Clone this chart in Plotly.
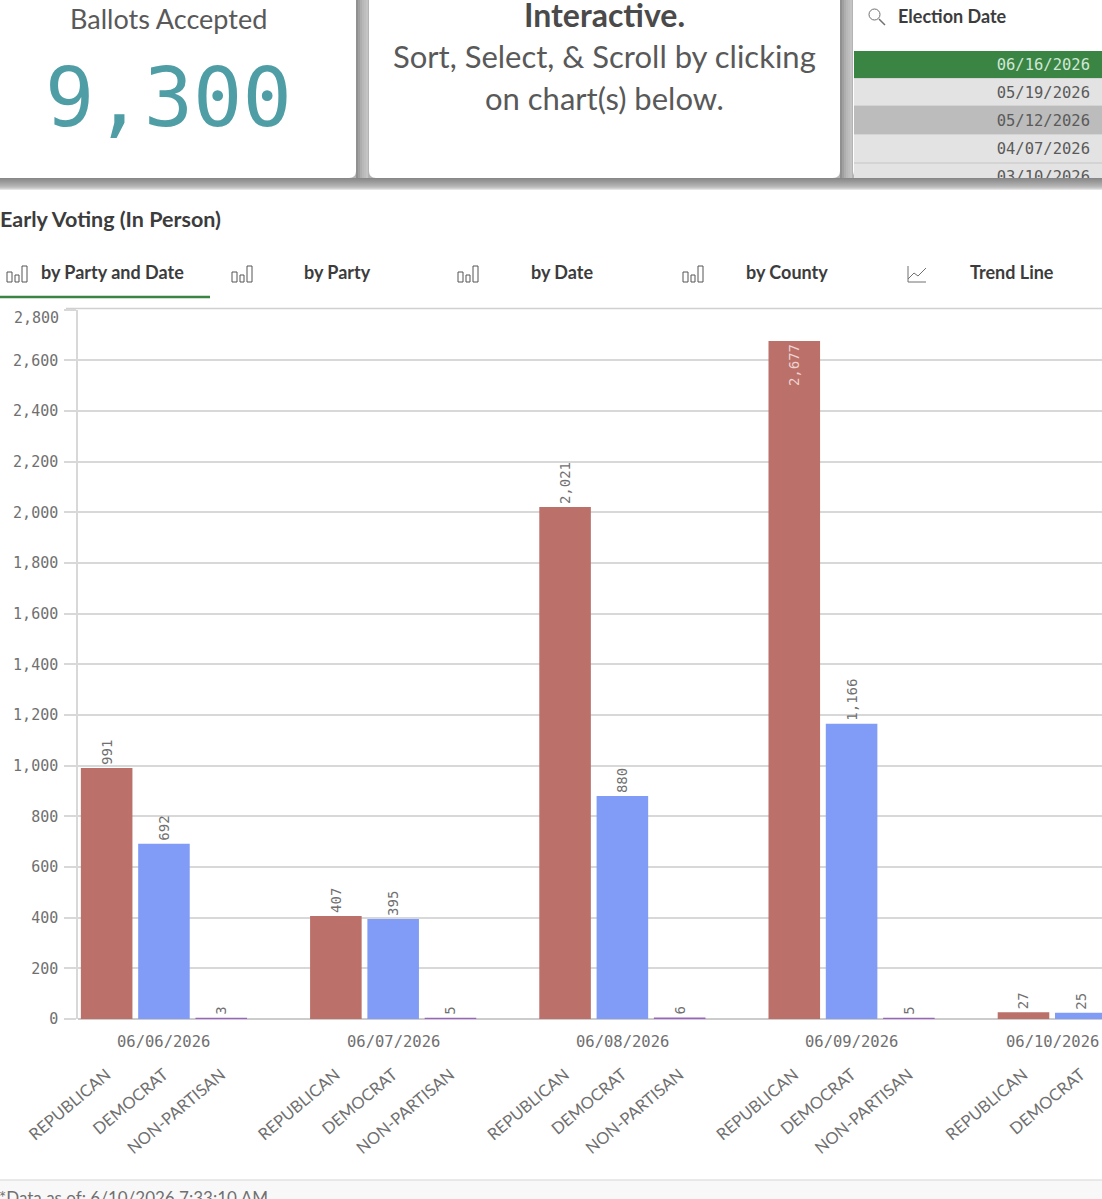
"""Early voting dashboard crop: cards on top, party/date bars below."""

import plotly.graph_objects as go

W, H = 1102, 1199

dates = ["06/06/2026", "06/07/2026", "06/08/2026", "06/09/2026", "06/10/2026"]
parties = ["REPUBLICAN", "DEMOCRAT", "NON-PARTISAN"]
republican = [991, 407, 2021, 2677, 27]
democrat = [692, 395, 880, 1166, 25]
non_partisan = [3, 5, 6, 5, None]  # last one is off the edge of the screenshot

election_dates = ["06/16/2026", "05/19/2026", "05/12/2026", "04/07/2026", "03/10/2026"]
tabs = ["by Party and Date", "by Party", "by Date", "by County", "Trend Line"]
y_ticks = list(range(0, 2801, 200))

SANS = "Lato"
MONO = "DejaVu Sans Mono"
GREY = "#707070"
DARK = "#3c3c3c"
GREEN = "#3a8444"
LINE = "#d8d8d8"


def px(x):
    return x / W


def py(y):
    return 1 - y / H


def rect(x0, y0, x1, y1, fill):
    return dict(type="rect", xref="paper", yref="paper", layer="below",
                x0=px(x0), x1=px(x1), y0=py(y0), y1=py(y1),
                fillcolor=fill, line_width=0)


def stroke(x0, y0, x1, y1, color=GREY, width=1):
    return dict(type="line", xref="paper", yref="paper", layer="below",
                x0=px(x0), x1=px(x1), y0=py(y0), y1=py(y1),
                line=dict(color=color, width=width))


def card(x0, x1, bottom, r=7):
    # card that runs off the top of the crop, rounded bottom corners only
    path = (f"M {px(x0)} {py(0)} L {px(x1)} {py(0)} L {px(x1)} {py(bottom - r)} "
            f"Q {px(x1)} {py(bottom)} {px(x1 - r)} {py(bottom)} "
            f"L {px(x0 + r)} {py(bottom)} Q {px(x0)} {py(bottom)} {px(x0)} {py(bottom - r)} Z")
    return dict(type="path", xref="paper", yref="paper", layer="below", path=path,
                fillcolor="white", line_width=0)


def bar_icon(x, y):
    shapes = []
    for dx, top, w in [(0, 6, 5), (8, 9, 4), (15, 0, 5)]:
        shapes.append(dict(type="rect", xref="paper", yref="paper", layer="below",
                           x0=px(x + dx), x1=px(x + dx + w), y0=py(y + top), y1=py(y + 16),
                           fillcolor="rgba(0,0,0,0)", line=dict(color="#555555", width=1)))
    return shapes


def label(x, y, text, size, color=DARK, bold=False, family=SANS, anchor="center"):
    return dict(xref="paper", yref="paper", x=px(x), y=py(y), text=f"<b>{text}</b>" if bold else text,
                showarrow=False, xanchor=anchor, yanchor="middle",
                font=dict(family=family, size=size, color=color))


# top band with the card shadows
shapes = [rect(0, 0, W, 180, "#b4b4b4")]
shadow = ["#888888", "#8e8e8e", "#939393", "#989898", "#9e9e9e", "#a4a4a4",
          "#aaaaaa", "#b0b0b0", "#b8b8b8", "#c2c2c2", "#d0d0d0", "#e4e4e4"]
for i, c in enumerate(shadow):
    shapes.append(rect(0, 178 + i, W, 179 + i, c))
for gutter in (356, 840):
    for i, c in enumerate(["#909090", "#a0a0a0", "#aeaeae", "#b8b8b8", "#bebebe", "#c4c4c4"]):
        shapes.append(rect(gutter + i * 2, 0, gutter + i * 2 + 2, 178, c))
shapes += [rect(0, 190, W, 1180, "white"), rect(0, 1180, W, H, "#f8f8f8"),
           stroke(0, 1180, W, 1180, "#e2e2e2", 1.5)]
shapes += [card(-10, 356, 178), card(369, 840, 178), card(853, W + 10, 178)]

# election date list rows
shapes.append(rect(854, 51, W, 178, "#d4d4d4"))
row_edges = [(51, 78, GREEN), (79, 105, "#e3e3e3"), (106, 134, "#bcbcbc"),
             (135, 162, "#e3e3e3"), (164, 178, "#e3e3e3")]
for top, bottom, c in row_edges:
    shapes.append(rect(854, top, W, bottom, c))

# search icon
shapes.append(dict(type="circle", xref="paper", yref="paper", layer="below",
                   x0=px(869), x1=px(880), y0=py(9), y1=py(20),
                   fillcolor="rgba(0,0,0,0)", line=dict(color=GREY, width=1)))
shapes.append(stroke(879, 19, 885, 25, GREY, 1.5))

# tab strip
for x in [7, 232, 458, 683]:
    shapes += bar_icon(x, 266)
shapes.append(stroke(908, 266, 908, 282))
shapes.append(stroke(908, 282, 926, 282))
shapes.append(dict(type="path", xref="paper", yref="paper", layer="below",
                   path=f"M {px(908)} {py(279)} L {px(914)} {py(273)} L {px(918)} {py(276)} L {px(926)} {py(268)}",
                   line=dict(color=GREY, width=1)))
shapes.append(stroke(0, 297, 210, 297, GREEN, 2.5))
shapes.append(stroke(66, 308.5, W, 308.5, "#d0d0d0", 1.5))

annotations = [
    label(168, 19, "Ballots Accepted", 27, "#595959"),
    label(168, 97, "9,300", 82, "#4f9ea6", family=MONO),
    label(604, 15, "Interactive.", 32, "#4a4a4a", bold=True),
    label(604, 56, "Sort, Select, &amp; Scroll by clicking", 31, "#595959"),
    label(604, 98, "on chart(s) below.", 31, "#595959"),
    label(896, 16, "Election Date", 18, DARK, bold=True, anchor="left"),
    label(-2, 219, "Early Voting (In Person)", 21.5, DARK, bold=True, anchor="left"),
    label(-3, 1197, "*Data as of: 6/10/2026 7:33:10 AM", 17, GREY, anchor="left"),
]
for tab, x in zip(tabs, [112, 337, 562, 787, 1012]):
    annotations.append(label(x, 272, tab, 18, DARK, bold=True))

# one slot per bar plus one empty slot between the dates
slots = [g * 4 + p for g in range(len(dates)) for p in range(len(parties))]
tick_text = [p for _ in dates for p in parties]

date_slots = [g * 4 + 1 for g in range(len(dates))]
date_slots[-1] = 16.5  # label is pulled in so it stays on screen
for d, s in zip(dates, date_slots):
    annotations.append(dict(xref="x", yref="paper", x=s, y=py(1042), text=d, showarrow=False,
                            xanchor="center", yanchor="middle",
                            font=dict(family=MONO, size=15.5, color=GREY)))
# top tick label sits below its gridline
annotations.append(label(61, 318, "2,800", 15, GREY, family=MONO, anchor="right"))

fig = go.Figure()
for g_offset, values, color in [(0, republican, "#bb7069"), (1, democrat, "#819cf7"), (2, non_partisan, "#9b62c4")]:
    xs = [g * 4 + g_offset for g in range(len(values))]
    fig.add_bar(
        x=xs, y=values, width=0.9, marker=dict(color=color, line_width=0),
        text=[f"{v:,}" if v is not None else "" for v in values],
        textposition=["inside" if v and v > 2600 else "outside" for v in values],
        insidetextanchor="end", textangle=-90, constraintext="none", cliponaxis=False,
        outsidetextfont=dict(family=MONO, size=14, color=GREY),
        insidetextfont=dict(family=MONO, size=14, color="#ecd3d0"),
        hoverinfo="skip",
    )

# list text goes in its own little subplot so the last row gets clipped by the card
fig.add_scatter(
    x=[236] * len(election_dates), y=list(range(len(election_dates))),
    text=election_dates, mode="text", textposition="middle left",
    textfont=dict(family=MONO, size=15.5, color=["#cfe8d6"] + ["#5a5a5a"] * 4),
    xaxis="x2", yaxis="y2", cliponaxis=True, hoverinfo="skip",
)

fig.update_layout(
    width=W, height=H, margin=dict(l=0, r=0, t=0, b=0, autoexpand=False),
    paper_bgcolor="white", plot_bgcolor="rgba(0,0,0,0)", showlegend=False,
    barmode="overlay", shapes=shapes, annotations=annotations,
    xaxis=dict(domain=[px(78), 1], range=[-0.5, 17.37], tickmode="array", tickvals=slots, ticktext=tick_text,
               tickangle=-40, ticks="", showgrid=False, zeroline=False, showline=False,
               ticklabelstandoff=42, automargin=False,
               tickfont=dict(family=SANS, size=16.5, color=GREY)),
    yaxis=dict(domain=[py(1019), py(309.8)], range=[0, 2800], tickmode="array", tickvals=y_ticks,
               ticktext=[f"{v:,}" if v < 2800 else "" for v in y_ticks], ticks="outside", ticklen=12,
               tickcolor=LINE, tickwidth=1.5, gridcolor=LINE, gridwidth=1.5, showline=True, linecolor=LINE,
               linewidth=1.5, zeroline=True, zerolinecolor="#cccccc", zerolinewidth=2, automargin=False,
               ticklabelstandoff=3, tickfont=dict(family=MONO, size=15, color=GREY)),
    xaxis2=dict(domain=[px(854), 1], range=[0, 248], visible=False, fixedrange=True),
    yaxis2=dict(domain=[py(178), py(50)], range=[4.0, -0.57], visible=False, fixedrange=True),
)

fig.write_html(
    "out.html",
    config=dict(displayModeBar=False),
    post_script="document.body.style.margin='0';document.body.style.overflow='hidden';",
)
